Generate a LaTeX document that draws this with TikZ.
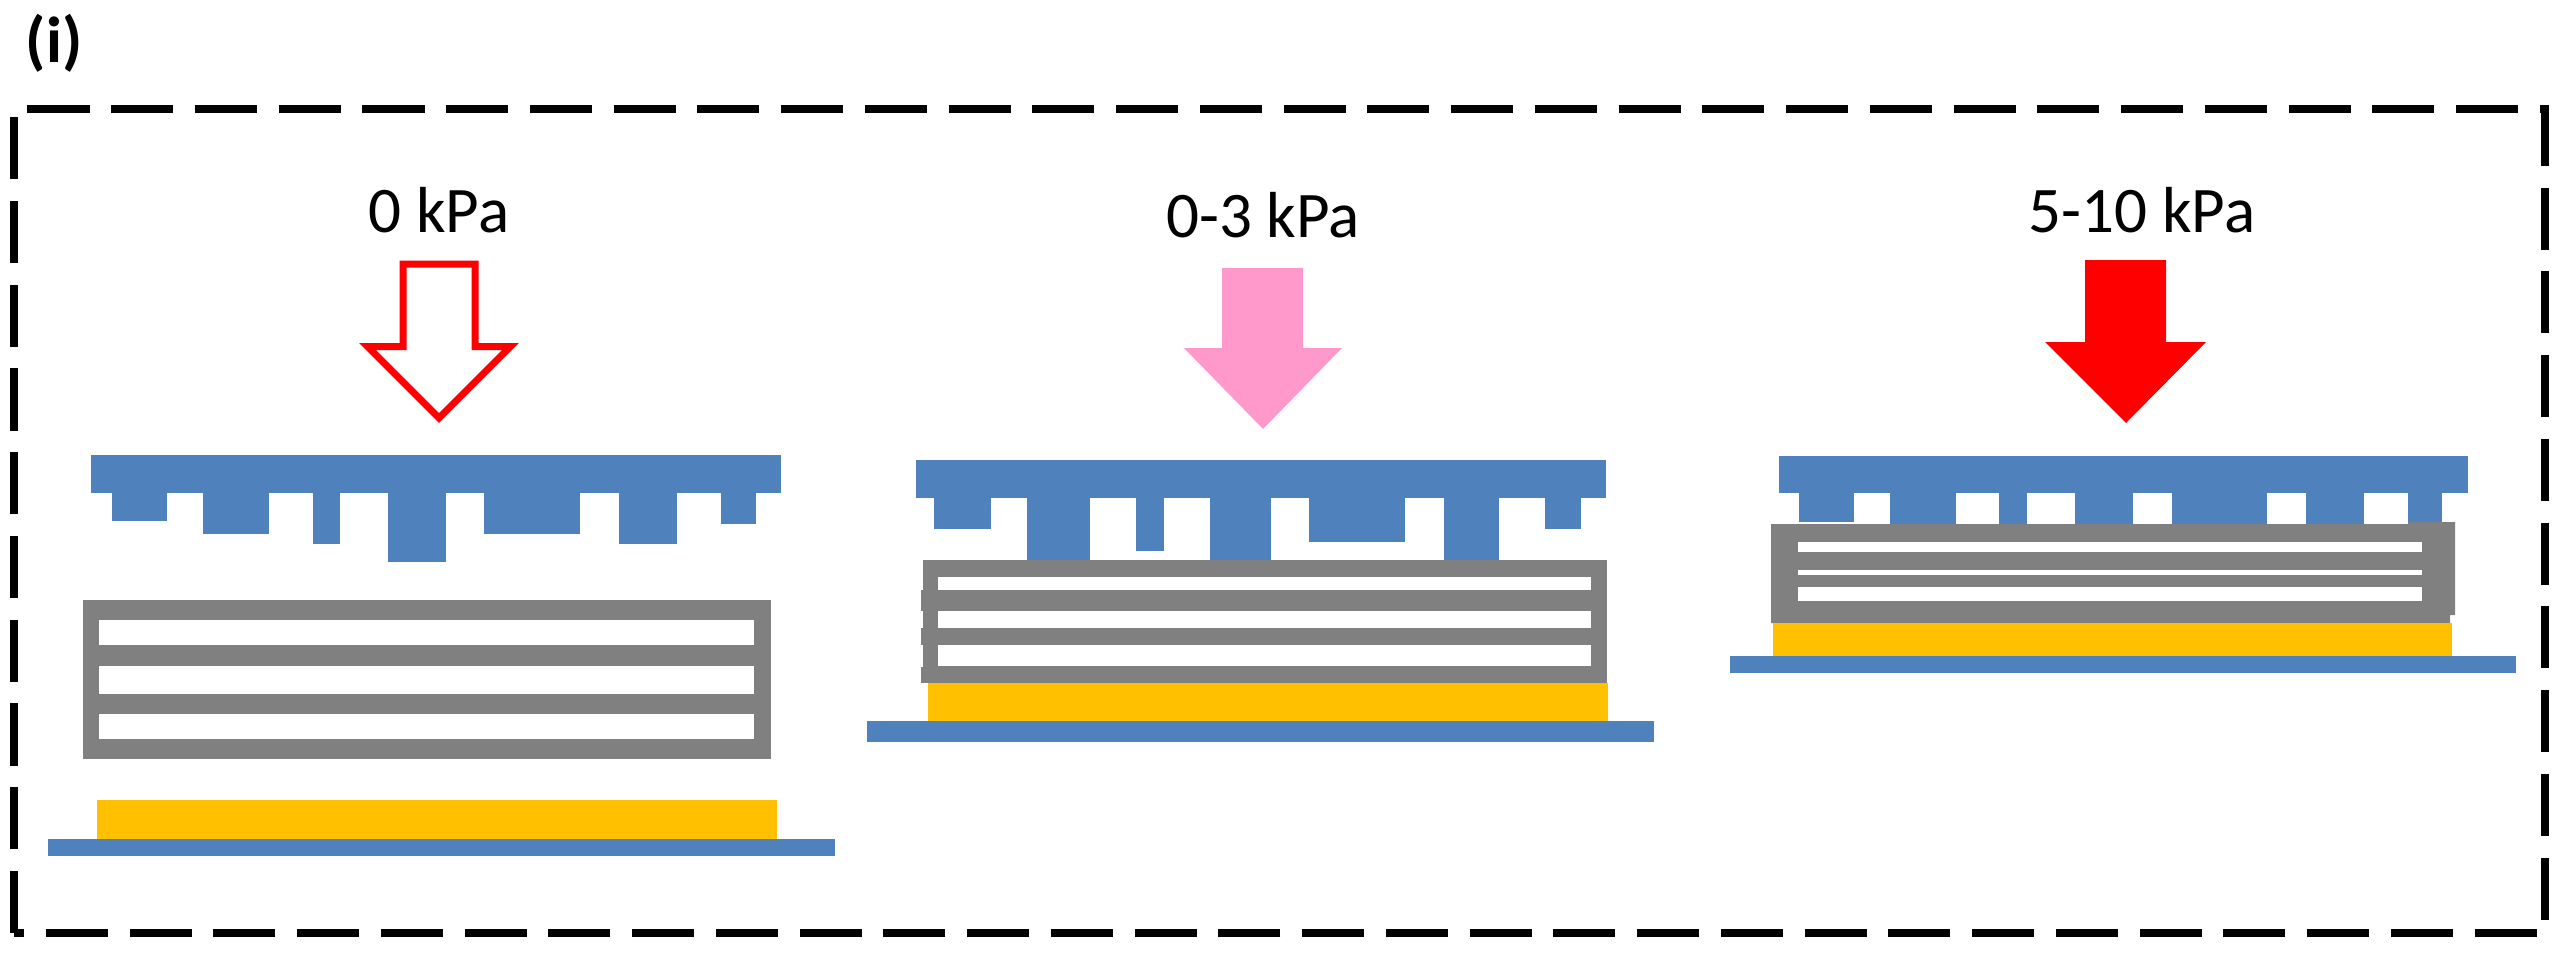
\documentclass[tikz,border=0pt]{standalone}
\usepackage{fontspec}
\setmainfont{Carlito}
\definecolor{plateblue}{HTML}{4F81BD}
\definecolor{layergray}{HTML}{808080}
\definecolor{goldlayer}{HTML}{FFC000}
\definecolor{lightpink}{HTML}{FF99CC}
\tikzset{
  plate/.style={fill=plateblue},
  sponge/.style={fill=layergray},
  gap/.style={fill=white},
  gold/.style={fill=goldlayer},
  frame/.style={draw=black,line width=0.075cm,dash pattern=on 0.62cm off 0.217cm},
  load/.style={font=\fontsize{18.5}{22}\selectfont,anchor=base,inner sep=0pt},
  tag/.style={font=\fontsize{18.5}{22}\selectfont\bfseries,anchor=base west,inner sep=0pt}
}

\begin{document}
\begin{tikzpicture}[x=0.01cm,y=-0.01cm]
\useasboundingbox (0,0) rectangle (2562,954);
\draw[frame] (14,933) -- (14,109) -- (2545,109) -- (2545,933) -- cycle;
\node[tag] (panel) at (25,62) {(i)};

\node[load] (zero) at (439,232) {0 kPa};
\node[load] (low) at (1263,237) {0-3 kPa};
\node[load] (high) at (2142,232) {5-10 kPa};

\draw[draw=red,fill=white,line width=0.07cm,miter limit=10]
  (403,264) -- (475,264) -- (475,346.5) -- (510.5,346.5) -- (439,418) -- (367.5,346.5) -- (403,346.5) -- cycle;
\fill[lightpink] (1222,268) -- (1303,268) -- (1303,348) -- (1342,348) -- (1263,429) -- (1184,348) -- (1222,348) -- cycle;
\fill[red] (2085,260) -- (2166,260) -- (2166,342) -- (2206,342) -- (2126,423) -- (2045,342) -- (2085,342) -- cycle;

\fill[plate] (91,455) rectangle (781,493);
\foreach \xa/\xb/\yb in {112/167/521,203/269/534,313/340/544,388/446/562,484/580/534,619/677/544,721/756/524}
  \fill[plate] (\xa,490) rectangle (\xb,\yb);
\fill[sponge] (83,600) rectangle (771,759);
\foreach \ya/\yb in {620/645,666/694,714/739}
  \fill[gap] (99,\ya) rectangle (754,\yb);
\fill[gold] (97,800) rectangle (777,839);
\fill[plate] (48,839) rectangle (835,856);

\fill[plate] (916,460) rectangle (1606,498);
\foreach \xa/\xb/\yb in {934/991/529,1027/1090/561,1136/1164/551,1210/1271/561,1309/1405/542,1444/1499/561,1545/1581/529}
  \fill[plate] (\xa,495) rectangle (\xb,\yb);
\fill[sponge] (923,560) rectangle (1607,683);
\foreach \ya/\yb in {590/611,628/645,667/683}
  \fill[sponge] (921,\ya) rectangle (925,\yb);
\foreach \ya/\yb in {577/590,611/628,645/666}
  \fill[gap] (938,\ya) rectangle (1591,\yb);
\fill[gold] (928,683) rectangle (1608,721);
\fill[plate] (867,721) rectangle (1654,742);

\fill[plate] (1779,456) rectangle (2468,493);
\foreach \xa/\xb/\yb in {1799/1854/522,1890/1956/525,1999/2027/525,2075/2133/525,2172/2267/525,2306/2364/525,2408/2442/525}
  \fill[plate] (\xa,490) rectangle (\xb,\yb);
\fill[sponge] (1771,524) -- (2408,524) -- (2408,522) -- (2455,522) -- (2455,615) -- (2450,615) -- (2450,623) -- (1771,623) -- cycle;
\foreach \ya/\yb in {542/552,570/575,587/601}
  \fill[gap] (1798,\ya) rectangle (2422,\yb);
\fill[gold] (1773,623) rectangle (2452,656);
\fill[plate] (1730,656) rectangle (2516,673);
\end{tikzpicture}
\end{document}
